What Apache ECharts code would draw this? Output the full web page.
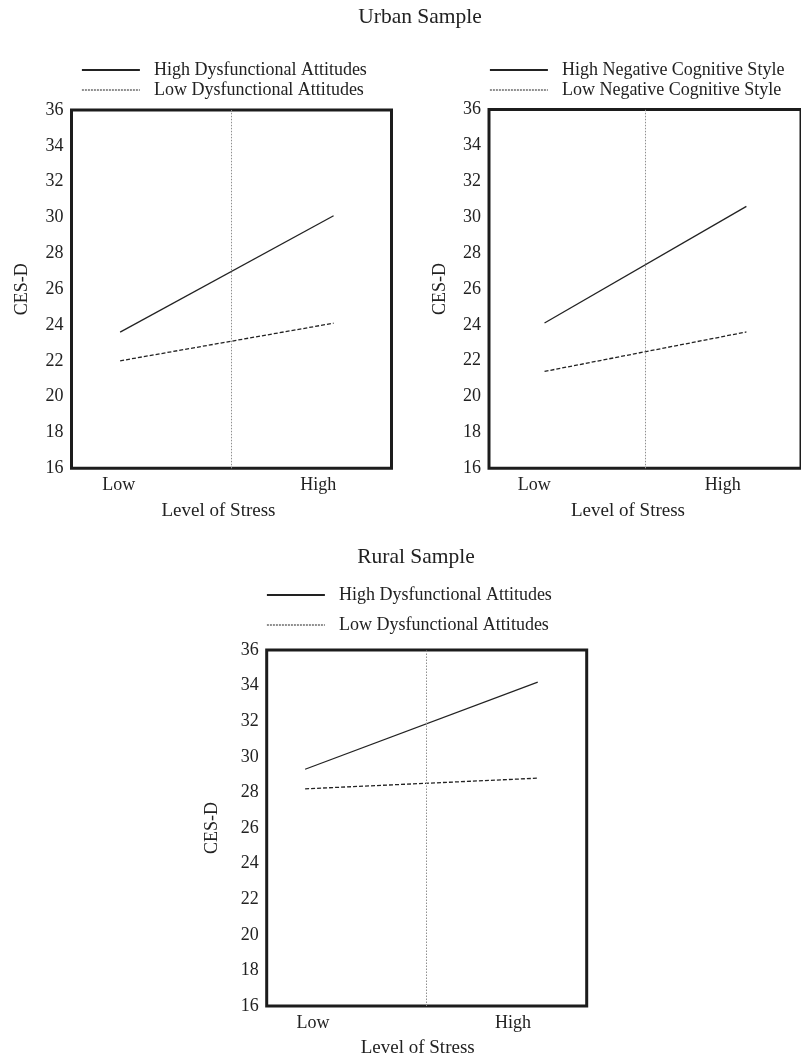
<!DOCTYPE html>
<html><head><meta charset="utf-8">
<script src="https://cdn.jsdelivr.net/npm/echarts@6/dist/echarts.min.js"></script>
<style>html,body{margin:0;padding:0;background:#fff}#c{width:801px;height:1059px}</style>
</head><body><div id="c"></div>
<script>
// ---- data ----
const stressTickLabels = ['Low', 'High'];
const yMin = 16, yMax = 36, yStep = 2;
const meanStress = 50;

// Urban sample, dysfunctional attitudes
const urbanDAStress = [15.2, 81.9];
const urbanDAHigh = [23.6, 30.1];
const urbanDALow = [22.0, 24.1];
const urbanDATickAt = [14.8, 77.1];

// Urban sample, negative cognitive style
const urbanNCSStress = [17.8, 82.5];
const urbanNCSHigh = [24.1, 30.6];
const urbanNCSLow = [21.4, 23.6];
const urbanNCSTickAt = [14.5, 74.9];

// Rural sample, dysfunctional attitudes
const ruralDAStress = [12.0, 84.7];
const ruralDAHigh = [29.3, 34.2];
const ruralDALow = [28.2, 28.8];
const ruralDATickAt = [14.5, 77.0];

const names = {
  hda: 'High Dysfunctional Attitudes', lda: 'Low Dysfunctional Attitudes',
  hncs: 'High Negative Cognitive Style', lncs: 'Low Negative Cognitive Style'
};

// ---- styling ----
const FONT = '"Liberation Serif", "Times New Roman", serif';
const INK = '#222';

function pairs(xs, ys) { return xs.map((x, i) => [x, ys[i]]); }

function xAxisFor(gi, tickAt, shift) {
  return {
    type: 'value', gridIndex: gi, min: 0, max: 100,
    axisLine: { show: false }, axisTick: { show: false }, splitLine: { show: false },
    axisLabel: {
      customValues: tickAt,
      formatter: function (v) {
        let best = 0;
        tickAt.forEach((t, i) => { if (Math.abs(t - v) < Math.abs(tickAt[best] - v)) best = i; });
        return stressTickLabels[best];
      },
      fontFamily: FONT, fontSize: 18, color: INK, margin: 8
    },
    name: 'Level of Stress', nameLocation: 'middle', nameGap: 33,
    nameTextStyle: { fontFamily: FONT, fontSize: 19, color: INK, padding: [0, shift * 2, 0, 0] }
  };
}
function yAxisFor(gi, gap) {
  return {
    type: 'value', gridIndex: gi, min: yMin, max: yMax, interval: yStep,
    axisLine: { show: false }, axisTick: { show: false }, splitLine: { show: false },
    axisLabel: { fontFamily: FONT, fontSize: 18, color: INK, margin: 8 },
    name: 'CES-D', nameLocation: 'middle', nameGap: gap, nameRotate: 90,
    nameTextStyle: { fontFamily: FONT, fontSize: 18, color: INK }
  };
}
function solid(name, gi, xs, ys, mark) {
  const s = {
    name, type: 'line', xAxisIndex: gi, yAxisIndex: gi, data: pairs(xs, ys),
    symbol: 'none', silent: true, animation: false,
    lineStyle: { color: INK, width: 1.3, type: 'solid' }, itemStyle: { color: INK }
  };
  if (mark) {
    s.markLine = {
      silent: true, symbol: 'none', label: { show: false }, animation: false,
      lineStyle: { color: '#8f8f8f', width: 1, type: [1.5, 1.5] },
      data: [{ xAxis: meanStress }]
    };
  }
  return s;
}
function dashed(name, gi, xs, ys) {
  return {
    name, type: 'line', xAxisIndex: gi, yAxisIndex: gi, data: pairs(xs, ys),
    symbol: 'none', silent: true, animation: false,
    lineStyle: { color: INK, width: 1.3, type: [4, 2] }, itemStyle: { color: INK }
  };
}
function legendFor(left, top, gap, hi, lo) {
  return {
    orient: 'vertical', left, top, itemGap: gap, itemWidth: 58, itemHeight: 14,
    selectedMode: false, padding: 0,
    itemStyle: { color: 'rgba(0,0,0,0)', borderColor: 'rgba(0,0,0,0)', borderWidth: 0, opacity: 0 },
    textStyle: { fontFamily: FONT, fontSize: 18, color: INK, padding: [0, 0, 0, 9], lineHeight: 18 },
    data: [
      { name: hi, lineStyle: { width: 1.8, type: 'solid', color: INK, opacity: 1 } },
      { name: lo, lineStyle: { width: 1.2, type: [2, 1], color: INK, opacity: 1 } }
    ]
  };
}

const gridBase = { show: true, borderColor: '#1c1c1c', borderWidth: 3, backgroundColor: 'transparent', containLabel: false };

const option = {
  backgroundColor: '#fff',
  animation: false,
  title: [
    { text: 'Urban Sample', left: 420, top: 6, textAlign: 'center', padding: 0,
      textStyle: { fontFamily: FONT, fontSize: 21.5, fontWeight: 'normal', color: INK } },
    { text: 'Rural Sample', left: 416, top: 546, textAlign: 'center', padding: 0,
      textStyle: { fontFamily: FONT, fontSize: 21.5, fontWeight: 'normal', color: INK } }
  ],
  legend: [
    legendFor(81, 61, 2, names.hda, names.lda),
    legendFor(489, 61, 2, names.hncs, names.lncs),
    legendFor(266, 586, 12, names.hda, names.lda)
  ],
  grid: [
    Object.assign({ left: 71.5, top: 110, width: 320, height: 358.3 }, gridBase),
    Object.assign({ left: 489, top: 109.5, width: 330.6, height: 358.8 }, gridBase),
    Object.assign({ left: 266.7, top: 650, width: 320, height: 358.3 }, gridBase)
  ],
  xAxis: [
    xAxisFor(0, urbanDATickAt, 13),
    xAxisFor(1, urbanNCSTickAt, 17),
    xAxisFor(2, ruralDATickAt, 9)
  ],
  yAxis: [yAxisFor(0, 40), yAxisFor(1, 40), yAxisFor(2, 45)],
  series: [
    solid(names.hda, 0, urbanDAStress, urbanDAHigh, true),
    dashed(names.lda, 0, urbanDAStress, urbanDALow),
    solid(names.hncs, 1, urbanNCSStress, urbanNCSHigh, true),
    dashed(names.lncs, 1, urbanNCSStress, urbanNCSLow),
    solid(names.hda, 2, ruralDAStress, ruralDAHigh, true),
    dashed(names.lda, 2, ruralDAStress, ruralDALow)
  ]
};

const chart = echarts.init(document.getElementById('c'), null, { renderer: 'canvas' });
chart.setOption(option);
</script>
</body></html>
